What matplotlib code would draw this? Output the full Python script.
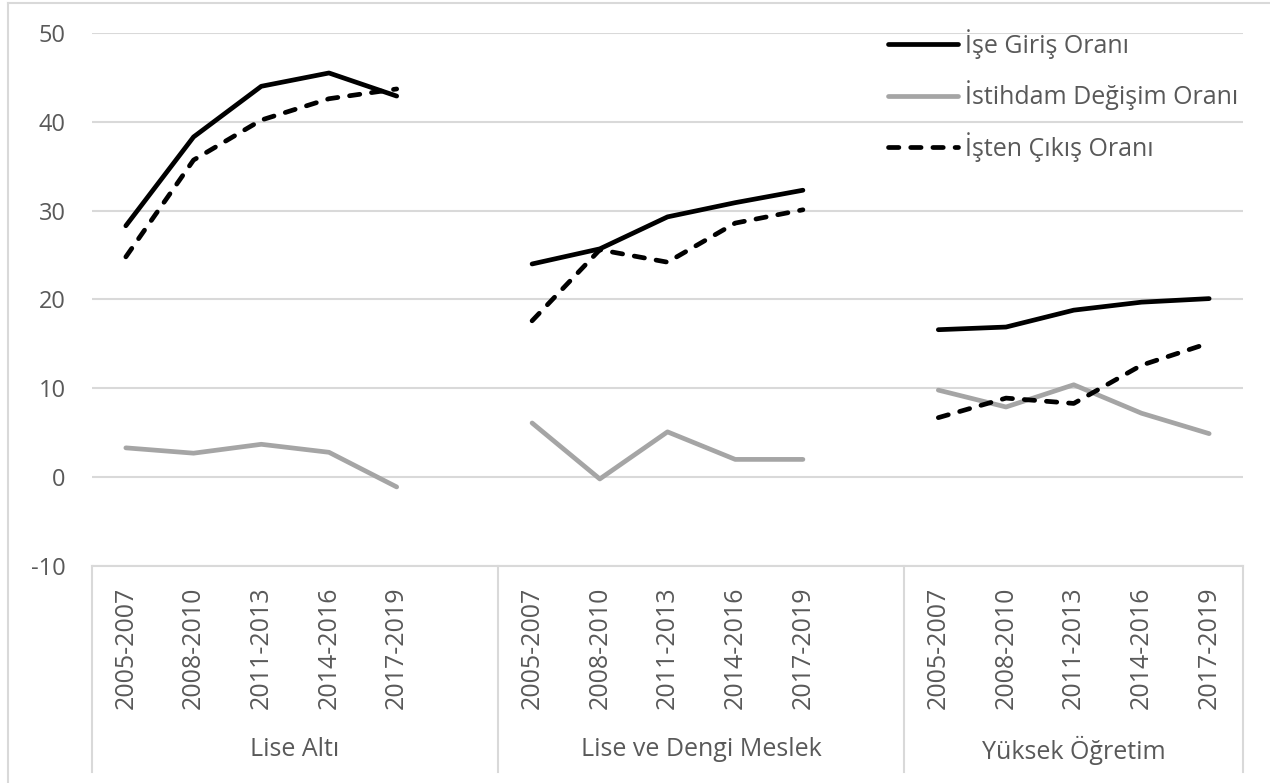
import numpy as np
import matplotlib
matplotlib.use('Agg')
import matplotlib.pyplot as plt
from matplotlib.lines import Line2D
import matplotlib.transforms as mtransforms

plt.rcParams['font.family'] = ['Open Sans', 'DejaVu Sans']
plt.rcParams['axes.unicode_minus'] = False

periods = ['2005-2007', '2008-2010', '2011-2013', '2014-2016', '2017-2019']
groups = ['Lise Altı', 'Lise ve Dengi Meslek', 'Yüksek Öğretim']

# one row per education group, one value per period
ise_giris = [[28.3, 38.3, 44.0, 45.5, 42.9],
             [24.0, 25.7, 29.3, 30.9, 32.3],
             [16.6, 16.9, 18.8, 19.7, 20.1]]
istihdam_degisim = [[3.3, 2.7, 3.7, 2.8, -1.1],
                    [6.1, -0.2, 5.1, 2.0, 2.0],
                    [9.8, 7.9, 10.4, 7.2, 4.9]]
isten_cikis = [[24.8, 35.7, 40.2, 42.6, 43.7],
               [17.6, 25.6, 24.2, 28.6, 30.1],
               [6.7, 8.9, 8.3, 12.6, 15.1]]

series = [
    ('İşe Giriş Oranı', ise_giris, dict(color='black', linestyle='-')),
    ('İstihdam Değişim Oranı', istihdam_degisim, dict(color='#a5a5a5', linestyle='-')),
    ('İşten Çıkış Oranı', isten_cikis, dict(color='black', linestyle=(0, (2.2, 2.5)))),
]

W, H = 1270, 783
fig = plt.figure(figsize=(W / 100, H / 100), dpi=100)
ax = fig.add_axes([92 / W, 1 - 566 / H, (1243 - 92) / W, (566 - 33) / H])

grid_c = '#d9d9d9'
text_c = '#595959'

# each group takes 6 slots, the last one left empty as a spacer
group_start = [0, 6, 12]
n_slots = 17

for label, values, style in series:
    for g, start in enumerate(group_start):
        x = np.arange(start, start + len(periods))
        ax.plot(x, values[g], lw=3.4, solid_capstyle='round',
                dash_capstyle='round', solid_joinstyle='round',
                label=label if g == 0 else None, **style)

ax.set_xlim(-0.5, n_slots - 0.5)
ax.set_ylim(-10, 50)
ax.set_yticks(np.arange(-10, 51, 10))
ax.yaxis.grid(True, color=grid_c, lw=1.5)
ax.set_axisbelow(True)
for s in ['left', 'right', 'top']:
    ax.spines[s].set_visible(False)
ax.spines['bottom'].set_color(grid_c)
ax.spines['bottom'].set_linewidth(1.5)
ax.tick_params(axis='y', length=0, pad=19, labelsize=17, labelcolor=text_c)

xt = [s + i for s in group_start for i in range(len(periods))]
ax.set_xticks(xt)
ax.set_xticklabels(periods * len(groups), rotation=90)
ax.tick_params(axis='x', length=0, pad=15, labelsize=18, labelcolor=text_c)

# group separators and group names under the period labels
trans = mtransforms.blended_transform_factory(ax.transData, ax.transAxes)
drop = -(772 - 566) / (566 - 33)
for b in [-0.5, 5.5, 11.5, 16.5]:
    ax.add_line(Line2D([b, b], [0, drop], transform=trans, color=grid_c,
                       lw=1.5, clip_on=False))
bounds = [(-0.5, 5.5), (5.5, 11.5), (11.5, 16.5)]
for name, (a, b) in zip(groups, bounds):
    ax.text((a + b) / 2, -(750 - 566) / (566 - 33), name, transform=trans,
            ha='center', va='center', fontsize=18, color=text_c)

leg = ax.legend(loc='upper left', bbox_to_anchor=(888 / W, 1 - 29 / H),
                bbox_transform=fig.transFigure, frameon=False, fontsize=18,
                handlelength=2.8, handletextpad=0.28, labelspacing=0.87,
                borderaxespad=0, borderpad=0)
for t in leg.get_texts():
    t.set_color(text_c)

# outer chart border
fig.add_artist(Line2D([8 / W, 8 / W], [0, 1 - 3 / H], transform=fig.transFigure,
                      color=grid_c, lw=1.5))
fig.add_artist(Line2D([8 / W, 1], [1 - 3 / H, 1 - 3 / H], transform=fig.transFigure,
                      color=grid_c, lw=1.5))

fig.savefig('out.png', dpi=100, facecolor='white')
